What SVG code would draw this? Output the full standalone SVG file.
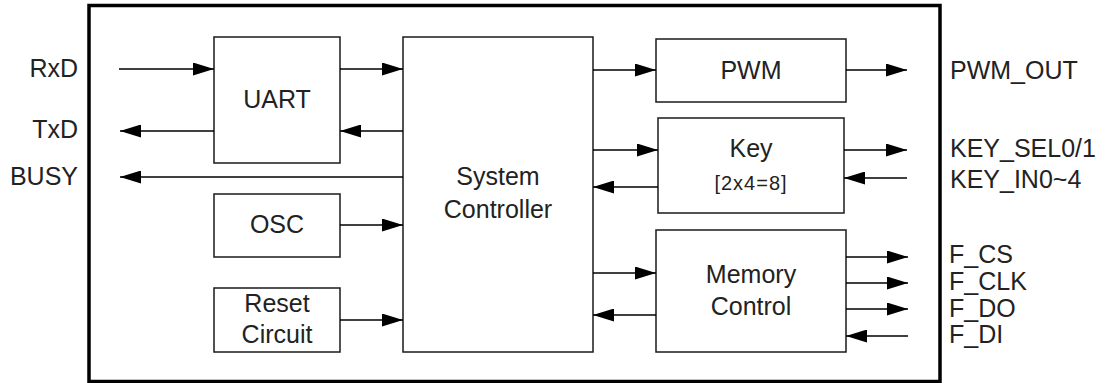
<svg xmlns="http://www.w3.org/2000/svg" width="1107" height="383" viewBox="0 0 1107 383">
<style>
.box{fill:#fff;stroke:#1a1a1a;stroke-width:1.5}
.outer{fill:#fff;stroke:#000;stroke-width:3.5}
.t{font-family:"Liberation Sans",Arial,sans-serif;font-size:25px;fill:#222}
.m{text-anchor:middle}
.e{text-anchor:end}
.s{font-size:20px;letter-spacing:1px}
.c{stroke:#000;stroke-width:1.5;fill:none;marker-end:url(#ah)}
</style>
<defs>
<marker id="ah" markerUnits="userSpaceOnUse" markerWidth="21" markerHeight="13" refX="21" refY="6.5" orient="auto">
<path d="M0,0 L21,6.5 L0,13 Z" fill="#000"/>
</marker>
</defs>
<rect class="outer" x="89" y="5.5" width="851" height="376"/>
<g id="labels">
<text class="t e" x="78" y="77">RxD</text>
<text class="t e" x="78" y="138">TxD</text>
<text class="t e" x="78" y="185">BUSY</text>
<text class="t" x="950" y="79">PWM_OUT</text>
<text class="t" x="950" y="157">KEY_SEL0/1</text>
<text class="t" x="950" y="188">KEY_IN0~4</text>
<text class="t" x="949" y="263">F_CS</text>
<text class="t" x="949" y="290">F_CLK</text>
<text class="t" x="949" y="317">F_DO</text>
<text class="t" x="949" y="343">F_DI</text>
</g>
<g id="uart"><rect class="box" x="214" y="37" width="126" height="126"/><text class="t m" x="277" y="108">UART</text></g>
<g id="osc"><rect class="box" x="214" y="194" width="126" height="63"/><text class="t m" x="277" y="233">OSC</text></g>
<g id="reset"><rect class="box" x="214" y="288" width="126" height="64"/><text class="t m" x="277" y="312">Reset</text><text class="t m" x="277" y="343">Circuit</text></g>
<g id="sysctrl"><rect class="box" x="403" y="37" width="190" height="315"/><text class="t m" x="498" y="185">System</text><text class="t m" x="498" y="218">Controller</text></g>
<g id="pwm"><rect class="box" x="656" y="39" width="190" height="63"/><text class="t m" x="751" y="79">PWM</text></g>
<g id="key"><rect class="box" x="658" y="118" width="186" height="95"/><text class="t m" x="751" y="157">Key</text><text class="t m s" x="751" y="190">[2x4=8]</text></g>
<g id="memctrl"><rect class="box" x="656" y="230" width="190" height="122"/><text class="t m" x="751" y="283">Memory</text><text class="t m" x="751" y="315">Control</text></g>
<g id="connectors">
<line class="c" x1="119" y1="69" x2="214" y2="69"/>
<line class="c" x1="214" y1="131" x2="120" y2="131"/>
<line class="c" x1="403" y1="177" x2="120" y2="177"/>
<line class="c" x1="340" y1="69" x2="403" y2="69"/>
<line class="c" x1="403" y1="131" x2="340" y2="131"/>
<line class="c" x1="340" y1="225" x2="403" y2="225"/>
<line class="c" x1="340" y1="320" x2="403" y2="320"/>
<line class="c" x1="593" y1="70" x2="656" y2="70"/>
<line class="c" x1="593" y1="150" x2="658" y2="150"/>
<line class="c" x1="658" y1="187" x2="593" y2="187"/>
<line class="c" x1="593" y1="273" x2="656" y2="273"/>
<line class="c" x1="656" y1="315" x2="593" y2="315"/>
<line class="c" x1="846" y1="70" x2="907" y2="70"/>
<line class="c" x1="844" y1="150" x2="907" y2="150"/>
<line class="c" x1="907" y1="178" x2="844" y2="178"/>
<line class="c" x1="846" y1="257" x2="908" y2="257"/>
<line class="c" x1="846" y1="283" x2="908" y2="283"/>
<line class="c" x1="846" y1="309" x2="908" y2="309"/>
<line class="c" x1="908" y1="336" x2="846" y2="336"/>
</g>
</svg>
